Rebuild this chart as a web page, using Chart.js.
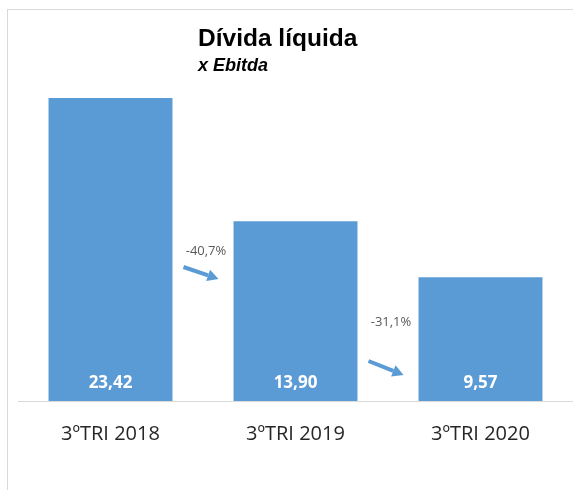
<!DOCTYPE html>
<html>
<head>
<meta charset="utf-8">
<script src="https://cdn.jsdelivr.net/npm/chart.js@4.4.0/dist/chart.umd.min.js"></script>
<style>
	html, body { margin: 0; padding: 0; background: #fff; overflow: hidden; }
	#wrap { position: relative; width: 573px; height: 490px; }
	#frame {
		position: absolute; left: 7px; top: 9px; width: 600px; height: 500px;
		border: 1px solid #d9d9d9; box-sizing: border-box;
	}
	#chart { position: absolute; left: 0; top: 0; }
</style>
</head>
<body>
<div id="wrap">
	<div id="frame"></div>
	<canvas id="chart" width="573" height="490"></canvas>
</div>
<script>
const categories = ['3ºTRI 2018', '3ºTRI 2019', '3ºTRI 2020'];
const values = [23.42, 13.90, 9.57];
const changes = ['-40,7%', '-31,1%'];

const titleText = 'Dívida líquida';
const subtitleText = 'x Ebitda';

const barColor = '#5b9bd5';

const fmt = v => v.toFixed(2).replace('.', ',');

// Title and subtitle, left aligned together
const titlePlugin = {
	id: 'titleBlock',
	afterDraw(chart) {
		const ctx = chart.ctx;
		ctx.save();
		ctx.fillStyle = '#000';
		ctx.textAlign = 'left';
		ctx.textBaseline = 'alphabetic';
		ctx.font = 'bold 24.5px "Liberation Sans", Arial, sans-serif';
		ctx.fillText(titleText, 198, 46);
		ctx.font = 'italic bold 18px "Liberation Sans", Arial, sans-serif';
		ctx.fillText(subtitleText, 198, 71);
		ctx.restore();
	}
};

// White value labels near the bottom of each bar
const valueLabels = {
	id: 'valueLabels',
	afterDatasetsDraw(chart) {
		const ctx = chart.ctx;
		const meta = chart.getDatasetMeta(0);
		ctx.save();
		ctx.fillStyle = '#fff';
		ctx.font = 'bold 17px "Open Sans", sans-serif';
		ctx.textAlign = 'center';
		ctx.textBaseline = 'middle';
		meta.data.forEach((bar, i) => {
			ctx.fillText(fmt(values[i]), bar.x, bar.base - 18);
		});
		ctx.restore();
	}
};

// Percent change + arrow between bars
const labelY = [251, 322];
const arrowY = [[267, 279], [361, 375]];

const changeArrows = {
	id: 'changeArrows',
	afterDatasetsDraw(chart) {
		const ctx = chart.ctx;
		const meta = chart.getDatasetMeta(0);
		ctx.save();
		changes.forEach((txt, i) => {
			const a = meta.data[i], b = meta.data[i + 1];
			const right = a.x + a.width / 2;
			const left = b.x - b.width / 2;
			ctx.fillStyle = '#595959';
			ctx.font = '13px "Open Sans", sans-serif';
			ctx.textAlign = 'center';
			ctx.textBaseline = 'middle';
			ctx.fillText(txt, (right + left) / 2 + 3, labelY[i]);

			const x0 = right + 11, y0 = arrowY[i][0];
			const x1 = left - 15, y1 = arrowY[i][1];
			const ang = Math.atan2(y1 - y0, x1 - x0);
			const head = 11;
			const hx = x1 - head * Math.cos(ang), hy = y1 - head * Math.sin(ang);
			ctx.strokeStyle = barColor;
			ctx.fillStyle = barColor;
			ctx.lineWidth = 4;
			ctx.beginPath();
			ctx.moveTo(x0, y0);
			ctx.lineTo(hx, hy);
			ctx.stroke();
			ctx.beginPath();
			ctx.moveTo(x1, y1);
			ctx.lineTo(hx + 6 * Math.sin(ang), hy - 6 * Math.cos(ang));
			ctx.lineTo(hx - 6 * Math.sin(ang), hy + 6 * Math.cos(ang));
			ctx.closePath();
			ctx.fill();
		});
		ctx.restore();
	}
};

new Chart(document.getElementById('chart'), {
	type: 'bar',
	data: {
		labels: categories,
		datasets: [{
			data: values,
			backgroundColor: barColor,
			borderWidth: 0,
			categoryPercentage: 1,
			barPercentage: 0.67
		}]
	},
	options: {
		responsive: false,
		animation: false,
		layout: {
			padding: {top: 77.5, bottom: 31, left: 18, right: 0}
		},
		plugins: {
			legend: {display: false},
			tooltip: {enabled: false}
		},
		scales: {
			x: {
				grid: {display: false},
				border: {display: true, color: '#d9d9d9', width: 1},
				ticks: {
					color: '#262626',
					padding: 13,
					font: {family: '"Open Sans", sans-serif', size: 20}
				}
			},
			y: {
				display: false,
				min: 0,
				max: 25
			}
		}
	},
	plugins: [titlePlugin, valueLabels, changeArrows]
});
</script>
</body>
</html>
